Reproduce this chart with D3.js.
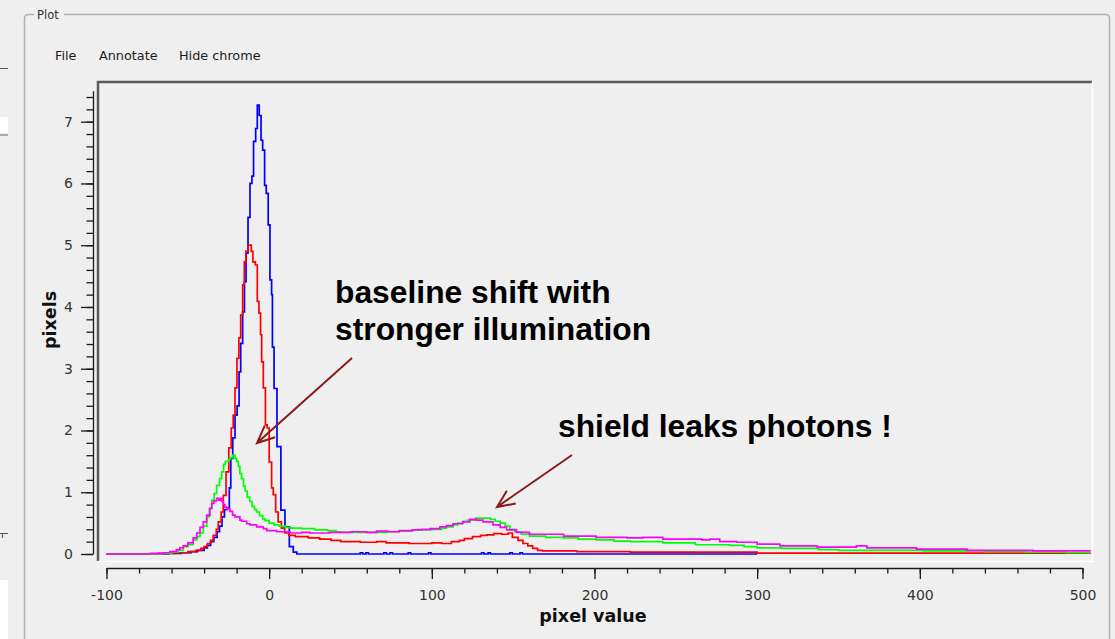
<!DOCTYPE html>
<html>
<head>
<meta charset="utf-8">
<script src="https://cdn.jsdelivr.net/npm/d3@7"></script>
<style>
  body { margin: 0; background: #efefef; }
  svg { display: block; }
</style>
</head>
<body>
<svg id="chart" width="1115" height="639"></svg>
<script>
// Histogram series as step breakpoints: [bin start (pixel value), count]
const blueHist = [[-100,0],[-62,0.01],[-54,0.02],[-48,0.04],[-44,0.06],[-40,0.1],[-38,0.14],[-36,0.2],[-34,0.27],[-32,0.36],[-30.5,0.45],[-29,0.6],[-27.5,0.72],[-26,0.74],[-24.5,1.07],[-23.6,1.55],[-22.4,1.88],[-21,2.25],[-19.7,2.4],[-18.5,2.95],[-17.5,3.41],[-16.3,3.92],[-15.2,4.41],[-14.2,4.87],[-13,5.45],[-11.8,6.0],[-10.6,6.12],[-9.6,6.68],[-8.3,6.89],[-7.3,7.27],[-6.1,7.1],[-5,6.7],[-4,6.54],[-2.8,5.97],[-1.8,5.84],[-0.6,5.33],[0.5,4.44],[1.5,4.2],[2,3.35],[3,2.68],[4.8,1.74],[7.2,0.71],[9.7,0.44],[12.4,0.12],[14.8,0.03],[17,0],[56,0.02],[57.5,0],[59.5,0.02],[61,0],[70.5,0.02],[72,0],[74.3,0.02],[75.8,0],[85.5,0.02],[87,0],[98,0.02],[99.5,0],[130.6,0.02],[132,0],[134.6,0.02],[136,0],[148,0.02],[149.5,0],[154.2,0.02],[155.7,0],[300,0]];

const redHist = [[-100,0],[-68,0.01],[-58,0.02],[-50,0.04],[-45,0.06],[-42,0.09],[-40,0.12],[-38,0.17],[-36,0.22],[-34.4,0.3],[-32.5,0.4],[-31.3,0.52],[-29.5,0.68],[-28.2,0.95],[-26.5,1.33],[-24.8,1.72],[-23.3,2.04],[-22.1,2.25],[-21,2.69],[-19.8,3.17],[-18.6,3.5],[-17.5,3.87],[-16.3,4.36],[-15.3,4.73],[-14.3,4.9],[-13,5.0],[-11,4.9],[-10,4.73],[-8.5,4.68],[-7.3,4.09],[-6.3,3.9],[-5.3,3.55],[-4.6,3.11],[-3.6,2.69],[-2.3,2.09],[-1.2,2.04],[0,1.49],[1.5,1.07],[2.5,0.96],[4,0.68],[5.5,0.52],[7.5,0.42],[9.5,0.34],[12,0.3],[16,0.28],[24,0.26],[31,0.24],[38,0.22],[44,0.2],[56,0.19],[66,0.2],[72,0.18],[86,0.17],[100,0.18],[106,0.17],[112,0.2],[117,0.22],[120,0.25],[125,0.28],[130,0.3],[134,0.31],[138,0.33],[143,0.32],[147,0.34],[149.5,0.27],[153,0.22],[156,0.17],[159,0.13],[162,0.09],[165,0.06],[168,0.05],[189,0.04],[222,0.03],[300,0.015],[505,0.015]];

const greenHist = [[-100,0],[-66,0.01],[-60,0.03],[-56,0.06],[-52.8,0.12],[-50,0.15],[-46.7,0.23],[-44.5,0.28],[-42.5,0.34],[-40.5,0.45],[-38.4,0.6],[-36.8,0.74],[-35.3,0.87],[-33.8,0.98],[-32.3,1.11],[-30.5,1.22],[-29.2,1.33],[-28,1.45],[-27,1.5],[-25,1.53],[-24,1.56],[-22.5,1.6],[-21,1.55],[-20,1.5],[-19,1.42],[-18,1.3],[-17,1.22],[-15.8,1.1],[-14.8,1.02],[-13.5,0.92],[-12,0.85],[-10.5,0.77],[-9,0.72],[-7.7,0.68],[-6,0.62],[-4,0.57],[-2.6,0.54],[0,0.5],[3,0.47],[6,0.45],[10,0.43],[13,0.42],[20,0.41],[28,0.39],[36,0.38],[41,0.36],[44,0.35],[52,0.36],[54,0.35],[72,0.36],[80,0.37],[88,0.39],[100,0.4],[106,0.42],[109,0.44],[113,0.47],[116,0.5],[119,0.53],[122,0.55],[127,0.58],[136,0.56],[139,0.53],[142,0.5],[145,0.45],[148,0.4],[151,0.36],[155,0.32],[160,0.29],[170,0.27],[181,0.26],[190,0.24],[201,0.23],[212,0.21],[222,0.2],[242,0.18],[262,0.15],[283,0.14],[292,0.12],[300,0.1],[315,0.09],[338,0.07],[350,0.06],[402,0.05],[440,0.04],[465,0.03],[490,0.02],[505,0.02]];

const magentaHist = [[-100,0],[-73,0.01],[-65,0.02],[-61,0.04],[-57,0.07],[-54.9,0.1],[-52.8,0.13],[-50,0.18],[-46.7,0.26],[-44.5,0.34],[-42.5,0.43],[-40.5,0.52],[-38.4,0.63],[-36.4,0.74],[-35.3,0.82],[-34,0.86],[-32.3,0.9],[-31,0.87],[-30,0.9],[-29.2,0.85],[-28.2,0.8],[-27.2,0.76],[-26.1,0.73],[-24.1,0.69],[-22.5,0.63],[-21,0.6],[-18,0.55],[-16.9,0.53],[-13.8,0.49],[-11.8,0.47],[-7.7,0.44],[-3.6,0.41],[-1.5,0.38],[4.6,0.36],[12.8,0.34],[20,0.35],[25,0.34],[37,0.35],[50,0.36],[60,0.35],[66,0.37],[73,0.36],[80,0.38],[88,0.39],[94,0.4],[99,0.41],[105,0.44],[109,0.46],[113,0.49],[119,0.52],[123.4,0.56],[127.5,0.55],[131.5,0.52],[137.6,0.47],[142,0.43],[146,0.39],[152,0.35],[160,0.32],[181,0.29],[201,0.27],[220,0.26],[230,0.27],[242,0.24],[266,0.23],[271,0.24],[277,0.2],[287.6,0.19],[300,0.16],[314,0.13],[337,0.11],[361,0.13],[367.5,0.1],[398,0.08],[429,0.06],[469.5,0.05],[505,0.05]];

// Drawing order and colours
const seriesList = [
  { name: "blue", data: blueHist, color: "#0000ff" },
  { name: "red", data: redHist, color: "#ff0000" },
  { name: "green", data: greenHist, color: "#00ff00" },
  { name: "magenta", data: magentaHist, color: "#ff00ff" }
];

const xMajorTicks = [-100, 0, 100, 200, 300, 400, 500];
const xMinorTicks = d3.range(-100, 501, 20);
const yMajorTicks = [0, 1, 2, 3, 4, 5, 6, 7];
const yMinorTicks = d3.range(0, 76, 2).map(v => v / 10);

const menuItems = [
  { label: "File", x: 55 },
  { label: "Annotate", x: 99 },
  { label: "Hide chrome", x: 179 }
];

const annotations = [
  { lines: ["baseline shift with", "stronger illumination"], x: 335, y: 303,
    from: [352, 358], to: [257, 443] },
  { lines: ["shield leaks photons !"], x: 558, y: 437,
    from: [572, 455], to: [497, 507] }
];

const svg = d3.select("#chart");

// Scales
const x = d3.scaleLinear().domain([-100, 500]).range([106.5, 1082.5]);
const y = d3.scaleLinear().domain([0, 7]).range([554, 121.7]);

// Window chrome: left-side remnants of a neighbouring panel
const chrome = svg.append("g");
chrome.append("line").attr("x1", 0).attr("x2", 8).attr("y1", 68.5).attr("y2", 68.5).attr("stroke", "#555");
chrome.append("rect").attr("x", 0).attr("y", 117).attr("width", 8).attr("height", 16).attr("fill", "#fff");
chrome.append("line").attr("x1", 0).attr("x2", 8).attr("y1", 135).attr("y2", 135).attr("stroke", "#666");
chrome.append("line").attr("x1", 0).attr("x2", 8).attr("y1", 533.5).attr("y2", 533.5).attr("stroke", "#555");
chrome.append("line").attr("x1", 2.5).attr("x2", 2.5).attr("y1", 533.5).attr("y2", 538).attr("stroke", "#555");
chrome.append("rect").attr("x", 0).attr("y", 580).attr("width", 8).attr("height", 59).attr("fill", "#fff");

// Group box
chrome.append("path")
  .attr("d", "M34,14.5 H28.5 Q24.5,14.5 24.5,18.5 V639 M64,14.5 H1105.5 Q1109.5,14.5 1109.5,18.5 V639")
  .attr("fill", "none").attr("stroke", "#b0b0b0").attr("stroke-width", 1.5);
chrome.append("text").attr("x", 37).attr("y", 19).text("Plot")
  .attr("font-family", "DejaVu Sans").attr("font-size", 11.5).attr("fill", "#333");

// Menu bar
chrome.selectAll("text.menu").data(menuItems).enter().append("text")
  .attr("class", "menu")
  .attr("x", d => d.x).attr("y", 59.5)
  .attr("font-family", "DejaVu Sans").attr("font-size", 12.8).attr("fill", "#1c1c1c")
  .text(d => d.label);

// Plot area with sunken frame
const plotLeft = 98, plotTop = 82, plotRight = 1092, plotBottom = 561;
svg.append("clipPath").attr("id", "plotClip").append("rect")
  .attr("x", plotLeft + 1).attr("y", plotTop + 1)
  .attr("width", plotRight - plotLeft - 1).attr("height", plotBottom - plotTop - 1);

const plot = svg.append("g").attr("clip-path", "url(#plotClip)");
const line = d3.line().x(d => x(d[0])).y(d => y(d[1])).curve(d3.curveStepAfter);

plot.selectAll("path.series").data(seriesList).enter().append("path")
  .attr("class", "series")
  .attr("d", d => line(d.data))
  .attr("fill", "none")
  .attr("stroke", d => d.color)
  .attr("stroke-width", 1.7)
  .attr("stroke-linejoin", "miter");

const frame = svg.append("g");
frame.append("path").attr("d", `M${plotLeft},${plotBottom} V${plotTop} H${plotRight}`)
  .attr("fill", "none").attr("stroke", "#5a5a5a").attr("stroke-width", 2.5);
frame.append("path").attr("d", `M${plotRight + 0.5},${plotTop} V${plotBottom + 0.5} H${plotLeft}`)
  .attr("fill", "none").attr("stroke", "#ffffff").attr("stroke-width", 1.5);

// Plain hyphen-minus for negative tick labels
const tickText = d => String(d);

// Y axis (separate widget left of the plot)
const yAxisScale = d3.scaleLinear().domain([0, 7.5]).range([y(0), y(7.5)]);
const yAxisG = svg.append("g").attr("transform", "translate(93,0)");
yAxisG.call(d3.axisLeft(yAxisScale).tickValues(yMinorTicks).tickSize(6.5).tickSizeOuter(0).tickFormat(""));
yAxisG.append("g").call(d3.axisLeft(yAxisScale).tickValues(yMajorTicks).tickSize(12).tickSizeOuter(0).tickPadding(8).tickFormat(tickText))
  .select(".domain").remove();
yAxisG.selectAll("path, line").attr("stroke", "#1a1a1a").attr("stroke-width", 1.3);
yAxisG.selectAll("text").attr("font-family", "DejaVu Sans").attr("font-size", 14).attr("fill", "#333");

// X axis (separate widget under the plot)
const xAxisG = svg.append("g").attr("transform", "translate(0,568)");
xAxisG.call(d3.axisBottom(x).tickValues(xMinorTicks).tickSize(5.5).tickSizeOuter(0).tickFormat(""));
xAxisG.append("g").call(d3.axisBottom(x).tickValues(xMajorTicks).tickSize(11).tickSizeOuter(0).tickPadding(11).tickFormat(tickText))
  .select(".domain").remove();
xAxisG.selectAll("path, line").attr("stroke", "#1a1a1a").attr("stroke-width", 1.3);
xAxisG.selectAll("text").attr("font-family", "DejaVu Sans").attr("font-size", 14).attr("fill", "#333");

// Axis titles
svg.append("text").attr("x", 593).attr("y", 622).attr("text-anchor", "middle")
  .attr("font-family", "DejaVu Sans").attr("font-weight", "bold").attr("font-size", 17.5).attr("fill", "#111")
  .text("pixel value");
svg.append("text").attr("transform", "translate(56,320) rotate(-90)").attr("text-anchor", "middle")
  .attr("font-family", "DejaVu Sans").attr("font-weight", "bold").attr("font-size", 17.5).attr("fill", "#111")
  .text("pixels");

// Annotations with arrows
const arrowColor = "#8b1a1a";
annotations.forEach(a => {
  const t = svg.append("text").attr("x", a.x).attr("y", a.y)
    .attr("font-family", "Liberation Sans, Arial, sans-serif").attr("font-weight", "bold")
    .attr("font-size", 31.8).attr("fill", "#000");
  a.lines.forEach((l, i) => t.append("tspan").attr("x", a.x).attr("dy", i === 0 ? 0 : 37).text(l));

  const [x0, y0] = a.from, [x1, y1] = a.to;
  const ang = Math.atan2(y1 - y0, x1 - x0);
  const head = 19, spread = 0.42;
  const p1 = [x1 - head * Math.cos(ang - spread), y1 - head * Math.sin(ang - spread)];
  const p2 = [x1 - head * Math.cos(ang + spread), y1 - head * Math.sin(ang + spread)];
  svg.append("path")
    .attr("d", `M${x0},${y0} L${x1},${y1} M${p1[0]},${p1[1]} L${x1},${y1} L${p2[0]},${p2[1]}`)
    .attr("fill", "none").attr("stroke", arrowColor).attr("stroke-width", 2);
});
</script>
</body>
</html>
